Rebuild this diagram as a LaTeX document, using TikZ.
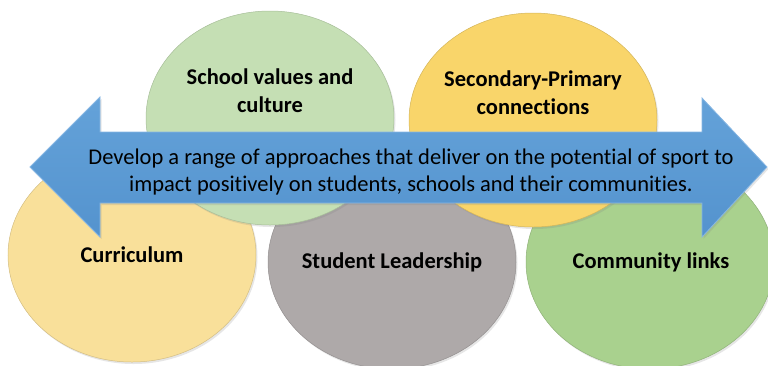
\documentclass[tikz,border=0pt]{standalone}
\usepackage{fontspec}
\setmainfont{Carlito}[Ligatures=NoCommon]
\usetikzlibrary{shapes.geometric,shadows}
\definecolor{valuesgreen}{HTML}{C5DFB4}
\definecolor{linkgold}{HTML}{F9D56A}
\definecolor{currcream}{HTML}{F9E09A}
\definecolor{leadgrey}{HTML}{AEA9A9}
\definecolor{commgreen}{HTML}{A9D18E}
\definecolor{arrowtop}{HTML}{64A2D9}
\definecolor{arrowbot}{HTML}{5493CE}
\definecolor{arrowedge}{HTML}{86B6E3}
\begin{document}
\begin{tikzpicture}[x=1pt,y=-1pt,
    blob/.style={ellipse, minimum width=248, minimum height=214, fill=#1,
      draw=#1!85!black, line width=0.5pt,
      drop shadow={opacity=0.2, shadow xshift=1.5pt, shadow yshift=-2pt}},
    lbl/.style={font=\fontsize{22.5}{28}\selectfont\bfseries, align=center},
    msgtext/.style={font=\fontsize{22.5}{27}\selectfont, align=center}]
    \useasboundingbox (0,0) rectangle (768,365);
    % bottom row first, top row over it
    \node[blob=currcream] (curr) at (132,255) {};
    \node[blob=leadgrey] (lead) at (392,262) {};
    \node[blob=commgreen] (comm) at (650,262) {};
    \node[blob=valuesgreen] (values) at (270,118) {};
    \node[blob=linkgold] (link) at (533,120) {};
    \node[lbl] (currtxt) at (132,255) {Curriculum};
    \node[lbl] (leadtxt) at (392,262) {Student Leadership};
    \node[lbl] (commtxt) at (651,262) {Community links};
    \node[lbl] (valuestxt) at (270,91) {School values and\\culture};
    \node[lbl] (linktxt) at (533,93) {Secondary-Primary\\connections};
    % the double arrow
    \coordinate (ltip) at (30,167);
    \coordinate (lhtop) at (100,97);
    \coordinate (lstop) at (100,132);
    \coordinate (rstop) at (702,132);
    \coordinate (rhtop) at (702,98);
    \coordinate (rtip) at (767,167);
    \coordinate (rhbot) at (702,237);
    \coordinate (rsbot) at (702,203);
    \coordinate (lsbot) at (100,203);
    \coordinate (lhbot) at (100,237);
    \path[draw=arrowedge, line width=0.8pt, top color=arrowtop, bottom color=arrowbot,
      drop shadow={opacity=0.2, shadow xshift=1.5pt, shadow yshift=-2pt}]
      (ltip) -- (lhtop) -- (lstop) -- (rstop) -- (rhtop) -- (rtip)
      -- (rhbot) -- (rsbot) -- (lsbot) -- (lhbot) -- cycle;
    \node[msgtext] (msg) at (411,172) {Develop a range of approaches that deliver on the potential of sport to\\impact positively on students, schools and their communities.};
\end{tikzpicture}
\end{document}
